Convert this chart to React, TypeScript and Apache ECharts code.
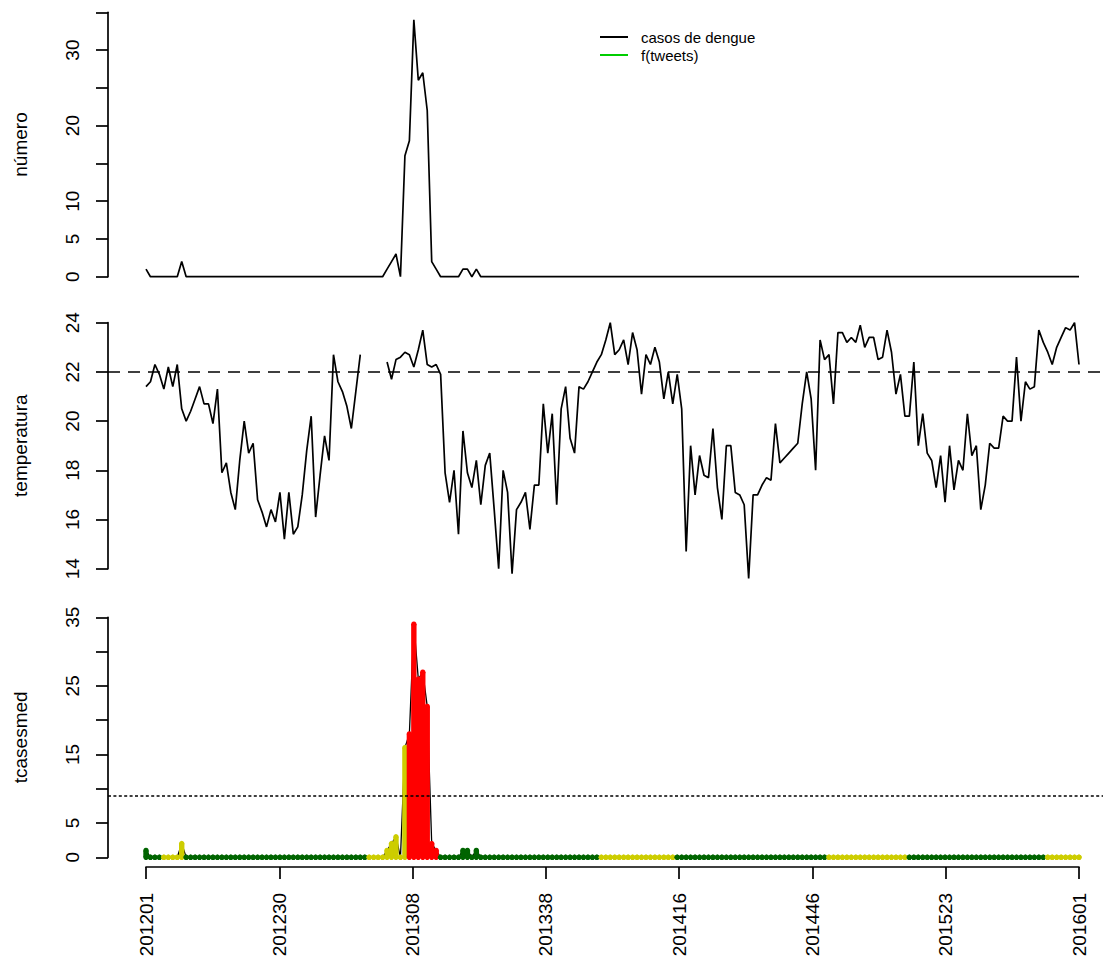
import React, { useEffect, useRef } from "react";
import * as echarts from "echarts";

// ---- data ----
// tick labels at 8 evenly spaced positions from first to last week
const weekTickLabels = ["201201", "201230", "201308", "201338", "201416", "201446", "201523", "201601"];

// weekly dengue cases (index 0 = 201201 ... index 209 = 201601)
const cases = [
  1, 0, 0, 0, 0, 0, 0, 0, 2, 0,
  0, 0, 0, 0, 0, 0, 0, 0, 0, 0,
  0, 0, 0, 0, 0, 0, 0, 0, 0, 0,
  0, 0, 0, 0, 0, 0, 0, 0, 0, 0,
  0, 0, 0, 0, 0, 0, 0, 0, 0, 0,
  0, 0, 0, 0, 1, 2, 3, 0, 16, 18,
  34, 26, 27, 22, 2, 1, 0, 0, 0, 0,
  0, 1, 1, 0, 1, 0, 0, 0, 0, 0,
  0, 0, 0, 0, 0, 0, 0, 0, 0, 0,
  0, 0, 0, 0, 0, 0, 0, 0, 0, 0,
  0, 0, 0, 0, 0, 0, 0, 0, 0, 0,
  0, 0, 0, 0, 0, 0, 0, 0, 0, 0,
  0, 0, 0, 0, 0, 0, 0, 0, 0, 0,
  0, 0, 0, 0, 0, 0, 0, 0, 0, 0,
  0, 0, 0, 0, 0, 0, 0, 0, 0, 0,
  0, 0, 0, 0, 0, 0, 0, 0, 0, 0,
  0, 0, 0, 0, 0, 0, 0, 0, 0, 0,
  0, 0, 0, 0, 0, 0, 0, 0, 0, 0,
  0, 0, 0, 0, 0, 0, 0, 0, 0, 0,
  0, 0, 0, 0, 0, 0, 0, 0, 0, 0,
  0, 0, 0, 0, 0, 0, 0, 0, 0, 0,
];

// weekly temperature (null = missing)
const temperature: (number | null)[] = [
  21.4, 21.6, 22.3, 21.9, 21.3, 22.2, 21.4, 22.3, 20.5, 20.0,
  20.4, 20.9, 21.4, 20.7, 20.7, 19.9, 21.3, 17.9, 18.3, 17.1,
  16.4, 18.4, 20.0, 18.7, 19.1, 16.8, 16.3, 15.7, 16.4, 15.9,
  17.1, 15.2, 17.1, 15.4, 15.7, 17.0, 18.8, 20.2, 16.1, 17.8,
  19.4, 18.4, 22.7, 21.6, 21.2, 20.6, 19.7, 21.2, 22.7, null,
  null, null, null, null, 22.4, 21.7, 22.5, 22.6, 22.8, 22.7,
  22.2, 22.9, 23.7, 22.3, 22.2, 22.3, 21.9, 17.9, 16.7, 18.0,
  15.4, 19.6, 17.9, 17.3, 18.4, 16.6, 18.2, 18.7, 16.4, 14.0,
  18.0, 17.1, 13.8, 16.4, 16.7, 17.1, 15.6, 17.4, 17.4, 20.7,
  18.7, 20.3, 16.6, 20.5, 21.4, 19.3, 18.7, 21.4, 21.3, 21.6,
  22.0, 22.4, 22.7, 23.3, 24.0, 22.7, 22.9, 23.3, 22.3, 23.6,
  22.9, 21.1, 22.7, 22.3, 23.0, 22.4, 20.9, 22.0, 20.7, 21.9,
  20.5, 14.7, 19.0, 17.0, 18.6, 17.8, 17.7, 19.7, 17.3, 16.0,
  19.0, 19.0, 17.1, 17.0, 16.6, 13.6, 17.0, 17.0, 17.4, 17.7,
  17.6, 19.9, 18.3, 18.5, 18.7, 18.9, 19.1, 20.7, 22.0, 20.9,
  18.0, 23.3, 22.5, 22.7, 20.7, 23.6, 23.6, 23.2, 23.4, 23.2,
  23.9, 23.0, 23.4, 23.4, 22.5, 22.6, 23.7, 22.8, 21.1, 21.9,
  20.2, 20.2, 22.4, 19.0, 20.3, 18.7, 18.4, 17.3, 18.6, 16.7,
  19.0, 17.2, 18.4, 18.0, 20.3, 18.6, 19.0, 16.4, 17.4, 19.1,
  18.9, 18.9, 20.2, 20.0, 20.0, 22.6, 20.0, 21.6, 21.3, 21.4,
  23.7, 23.2, 22.8, 22.3, 23.0, 23.4, 23.8, 23.7, 24.0, 22.3,
];

// alert level per week: 0 = darkgreen, 1 = yellow, 2 = red
const level = [
  0, 0, 0, 0, 1, 1, 1, 1, 1, 0,
  0, 0, 0, 0, 0, 0, 0, 0, 0, 0,
  0, 0, 0, 0, 0, 0, 0, 0, 0, 0,
  0, 0, 0, 0, 0, 0, 0, 0, 0, 0,
  0, 0, 0, 0, 0, 0, 0, 0, 0, 0,
  1, 1, 1, 1, 1, 1, 1, 1, 1, 2,
  2, 2, 2, 2, 2, 2, 0, 0, 0, 0,
  0, 0, 0, 0, 0, 0, 0, 0, 0, 0,
  0, 0, 0, 0, 0, 0, 0, 0, 0, 0,
  0, 0, 0, 0, 0, 0, 0, 0, 0, 0,
  0, 0, 1, 1, 1, 1, 1, 1, 1, 1,
  1, 1, 1, 1, 1, 1, 1, 1, 1, 0,
  0, 0, 0, 0, 0, 0, 0, 0, 0, 0,
  0, 0, 0, 0, 0, 0, 0, 0, 0, 0,
  0, 0, 0, 0, 0, 0, 0, 0, 0, 0,
  0, 0, 0, 1, 1, 1, 1, 1, 1, 1,
  1, 1, 1, 1, 1, 1, 1, 1, 1, 1,
  1, 0, 0, 0, 0, 0, 0, 0, 0, 0,
  0, 0, 0, 0, 0, 0, 0, 0, 0, 0,
  0, 0, 0, 0, 0, 0, 0, 0, 0, 0,
  0, 0, 1, 1, 1, 1, 1, 1, 1, 1,
];
const levelColors = ["#006400", "#CDCD00", "#FF0000"];

const tempThreshold = 22;
const casesThreshold = 9;
const topYLabels = [0, 5, 10, 20, 30];
const bottomYLabels = [0, 5, 15, 25, 35];

export default function App() {
  const ref = useRef<HTMLDivElement>(null);

  useEffect(() => {
    const chart = echarts.init(ref.current!, null, { renderer: "svg" });
    const font = "'Liberation Sans', Arial, Helvetica, sans-serif";
    // axis region (first to last tick) and full plot region
    const axisLeft = 146;
    const axisW = 933;
    const plotLeft = 108;
    const plotW = 995; // to the right edge of the page
    const lastWeek = cases.length - 1;
    const tickStep = lastWeek / (weekTickLabels.length - 1);
    const pxPerWeek = axisW / lastWeek;
    const xMin = -(axisLeft - plotLeft) / pxPerWeek;
    const xMax = xMin + plotW / pxPerWeek;
    const panels = [
      { top: 12.3, height: 264.4 },
      { top: 322.7, height: 246 },
      { top: 617.3, height: 240 },
    ];
    const black = "#000";
    const lw = 1.7;

    const yAxis = (
      gridIndex: number,
      min: number,
      max: number,
      interval: number,
      name: string,
      shown?: number[]
    ) => ({
      type: "value",
      gridIndex,
      min,
      max,
      interval,
      name,
      nameLocation: "middle",
      nameRotate: 90,
      nameGap: 78.5,
      nameTextStyle: { fontFamily: font, fontSize: 19, color: black },
      axisLine: { show: true, onZero: false, lineStyle: { color: black, width: lw } },
      axisTick: { show: true, length: 12, lineStyle: { color: black, width: lw } },
      axisLabel: {
        rotate: 90,
        margin: 26,
        fontFamily: font,
        fontSize: 19,
        color: black,
        formatter: (v: number) => (shown ? (shown.includes(v) ? String(v) : "") : String(v)),
      },
      splitLine: { show: false },
    });

    const hiddenX = (gridIndex: number) => ({
      type: "value",
      gridIndex,
      min: xMin,
      max: xMax,
      show: false,
      axisLine: { onZero: false },
      splitLine: { show: false },
    });

    const idx = cases.map((_, i) => i);

    chart.setOption({
      animation: false,
      backgroundColor: "#fff",
      textStyle: { fontFamily: font },
      grid: [
        ...panels.map((p) => ({ left: plotLeft, width: plotW, top: p.top, height: p.height })),
        { left: axisLeft, width: axisW, top: panels[2].top, height: panels[2].height },
      ],
      legend: {
        data: ["casos de dengue", "f(tweets)"],
        left: 595,
        top: 24,
        orient: "vertical",
        icon: "rect",
        itemWidth: 28,
        itemHeight: 2,
        itemGap: 2,
        selectedMode: false,
        textStyle: { fontFamily: font, fontSize: 15, color: black, lineHeight: 16, padding: [0, 0, 0, 8] },
      },
      xAxis: [
        hiddenX(0),
        hiddenX(1),
        hiddenX(2),
        {
          type: "value",
          gridIndex: 3,
          min: 0,
          max: lastWeek,
          interval: tickStep,
          position: "bottom",
          offset: 9.6,
          axisLine: { show: true, onZero: false, lineStyle: { color: black, width: lw } },
          axisTick: { show: true, length: 12, lineStyle: { color: black, width: lw } },
          axisLabel: {
            rotate: 90,
            margin: 26,
            fontFamily: font,
            fontSize: 19,
            color: black,
            showMaxLabel: true,
            formatter: (v: number) => weekTickLabels[Math.round(v / tickStep)] ?? "",
          },
          splitLine: { show: false },
        },
      ],
      yAxis: [
        yAxis(0, 0, 35, 5, "número", topYLabels),
        yAxis(1, 14, 24, 2, "temperatura"),
        yAxis(2, 0, 35, 5, "tcasesmed", bottomYLabels),
        { type: "value", gridIndex: 3, min: 0, max: 35, show: false, axisLine: { onZero: false }, splitLine: { show: false } },
      ],
      series: [
        {
          name: "casos de dengue",
          type: "line",
          xAxisIndex: 0,
          yAxisIndex: 0,
          data: cases.map((v, i) => [idx[i], v]),
          symbol: "none",
          color: black,
          lineStyle: { color: black, width: lw },
          clip: false,
        },
        {
          name: "f(tweets)",
          type: "line",
          xAxisIndex: 0,
          yAxisIndex: 0,
          data: [],
          symbol: "none",
          color: "#00CD00",
          lineStyle: { color: "#00CD00", width: lw },
        },
        {
          name: "temperatura",
          type: "line",
          xAxisIndex: 1,
          yAxisIndex: 1,
          data: temperature.map((v, i) => [idx[i], v]),
          symbol: "none",
          connectNulls: false,
          color: black,
          lineStyle: { color: black, width: lw },
          clip: false,
          markLine: {
            silent: true,
            symbol: "none",
            label: { show: false },
            lineStyle: { color: black, width: lw, type: [12, 8] },
            data: [{ yAxis: tempThreshold }],
          },
        },
        {
          name: "tcasesmed",
          type: "line",
          xAxisIndex: 2,
          yAxisIndex: 2,
          data: cases.map((v, i) => [idx[i], v]),
          symbol: "none",
          color: black,
          lineStyle: { color: black, width: 1.3 },
          clip: false,
          z: 1,
          markLine: {
            silent: true,
            symbol: "none",
            label: { show: false },
            lineStyle: { color: black, width: lw, type: [3, 2.4] },
            data: [{ yAxis: casesThreshold }],
          },
        },
        {
          name: "nivel",
          type: "custom",
          xAxisIndex: 2,
          yAxisIndex: 2,
          z: 3,
          clip: false,
          encode: { x: 0, y: 1 },
          data: cases.map((v, i) => [idx[i], v, level[i]]),
          renderItem: (params: any, api: any) => {
            const i = api.value(0);
            const v = api.value(1);
            const lv = api.value(2);
            const top = api.coord([i, v]);
            const base = api.coord([i, 0]);
            const r = 2.7;
            const color = levelColors[lv];
            return {
              type: "group",
              children: [
                { type: "rect", shape: { x: top[0] - r, y: top[1], width: 2 * r, height: base[1] - top[1] }, style: { fill: color } },
                { type: "circle", shape: { cx: top[0], cy: top[1], r }, style: { fill: color } },
                { type: "circle", shape: { cx: base[0], cy: base[1], r }, style: { fill: color } },
              ],
            };
          },
        },
      ],
    });

    return () => chart.dispose();
  }, []);

  return (
    <div
      ref={ref}
      style={{ position: "fixed", left: 0, top: 0, width: 1103, height: 963, background: "#fff" }}
    />
  );
}
